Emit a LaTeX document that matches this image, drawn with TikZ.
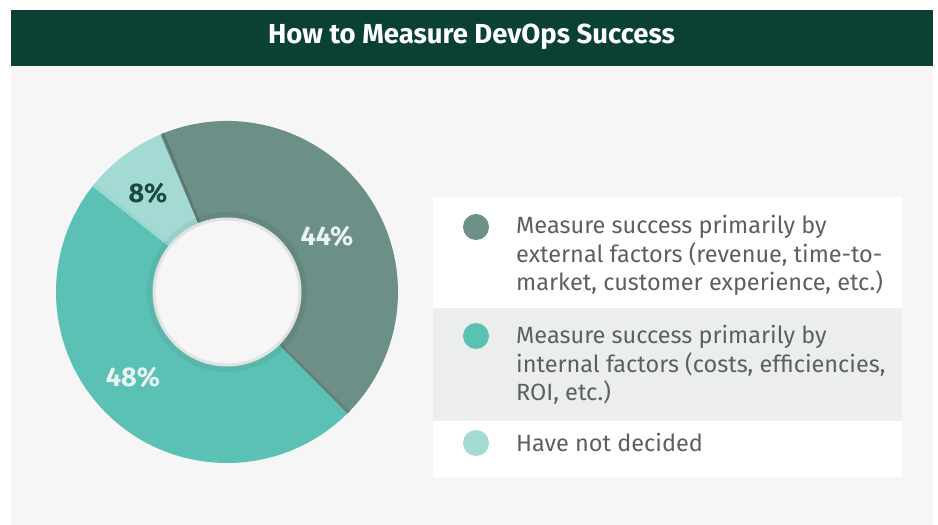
\documentclass[tikz,border=0pt]{standalone}
\usepackage{fontspec}
\setmainfont{Fira Sans}
\definecolor{titlegreen}{HTML}{0B4135}
\definecolor{pagegray}{HTML}{F6F6F6}
\definecolor{rowgray}{HTML}{ECEEED}
\definecolor{extcol}{HTML}{6C8F87}
\definecolor{intcol}{HTML}{5CC1B5}
\definecolor{undcol}{HTML}{A3DAD3}
\definecolor{legtext}{HTML}{5B6062}
\definecolor{darklabel}{HTML}{1D4A40}
\definecolor{lightlabel}{HTML}{EAF5F3}
\begin{document}
\begin{tikzpicture}[x=1pt, y=1pt,
            pct/.style = {font=\fontsize{27}{27}\selectfont\bfseries},
            legdot/.style = {circle, minimum size=26pt, inner sep=0pt},
            legline/.style = {anchor=north west, inner sep=0pt, align=left,
                text=legtext, font=\fontsize{23.5}{28.5}\selectfont}]
\useasboundingbox (0,0) rectangle (938,525);
\fill[white] (0,0) rectangle (938,525);
\fill[pagegray] (11,0) rectangle (933,459);
\fill[titlegreen] (11,459) rectangle (933,515);
\node[anchor=base, text=white, font=\fontsize{27.5}{27.5}\selectfont\bfseries] (title) at (471.5,481) {How to Measure DevOps Success};

% donut
\coordinate (c) at (227,233);
\foreach \a/\b/\col in {113/-45.4/extcol, -45.4/-218.2/intcol, 141.8/113/undcol}
    \fill[\col] ([shift={(\a:171)}]c) arc (\a:\b:171) -- ([shift={(\b:74)}]c) arc (\b:\a:74) -- cycle;
\draw[extcol!85!black, line width=2.5pt] ([shift={(111.8:76)}]c) -- ([shift={(112:171)}]c);
\draw[extcol!90!black, line width=2.5pt] ([shift={(-44.5:76)}]c) -- ([shift={(-44.6:171)}]c);
\draw[undcol!85!intcol, line width=2.5pt] ([shift={(141:76)}]c) -- ([shift={(141:171)}]c);
\fill[black, opacity=0.05] (c) circle (80);
\filldraw[fill=pagegray, draw=rowgray!90!gray, line width=3pt] (c) circle (73);
\node[pct, text=lightlabel] (ext) at (327,289) {44\%};
\node[pct, text=lightlabel] (int) at (133,148) {48\%};
\node[pct, text=darklabel] (und) at (148,332) {8\%};

% legend
\fill[white] (433,217) rectangle (902,328);
\fill[rowgray] (433,104) rectangle (902,217);
\fill[white] (433,48) rectangle (902,104);
\node[legdot, fill=extcol] (dotext) at (476,298) {};
\node[legdot, fill=intcol] (dotint) at (476,189) {};
\node[legdot, fill=undcol] (dotund) at (476,82) {};
\node[legline] (legext) at (516,310) {Measure success primarily by\\external factors (revenue, time-to-\\market, customer experience, etc.)};
\node[legline] (legint) at (516,200) {Measure success primarily by\\internal factors (costs, efficiencies,\\ROI, etc.)};
\node[legline] (legund) at (516,92) {Have not decided};
\end{tikzpicture}
\end{document}
